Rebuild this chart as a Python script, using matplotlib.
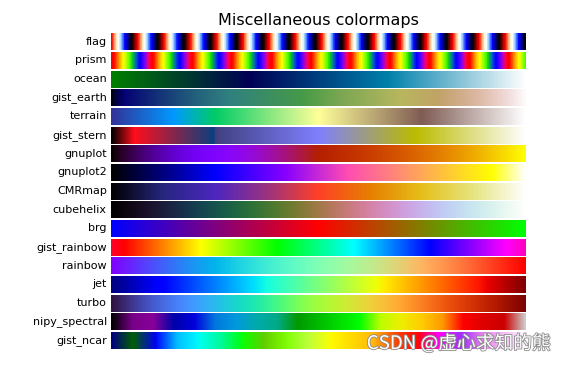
import numpy as np
import matplotlib
matplotlib.use('Agg')
import matplotlib.pyplot as plt
import matplotlib.patheffects as pe

# colormaps shown, top to bottom
cmap_names = ['flag', 'prism', 'ocean', 'gist_earth', 'terrain', 'gist_stern',
              'gnuplot', 'gnuplot2', 'CMRmap', 'cubehelix', 'brg',
              'gist_rainbow', 'rainbow', 'jet', 'turbo', 'nipy_spectral',
              'gist_ncar']
title = 'Miscellaneous colormaps'
watermark = 'CSDN @虚心求知的熊'

gradient = np.linspace(0, 1, 256)
gradient = np.vstack((gradient, gradient))

fig, axs = plt.subplots(nrows=len(cmap_names), figsize=(5.66, 3.65), dpi=100)
fig.subplots_adjust(top=0.909, bottom=0.044, left=0.196, right=0.928, hspace=0.1)

axs[0].set_title(title, fontsize=11.5)

for ax, name in zip(axs, cmap_names):
    ax.imshow(gradient, aspect='auto', cmap=plt.get_cmap(name))
    ax.text(-0.01, 0.5, name, va='center', ha='right', fontsize=8,
            transform=ax.transAxes)

for ax in axs:
    ax.set_axis_off()

# watermark from the source page
fig.text(0.973, 0.03, watermark, ha='right', va='bottom', fontsize=13.5,
         color='white', family=['Noto Sans CJK SC', 'DejaVu Sans'],
         path_effects=[pe.withStroke(linewidth=1.2, foreground='#8a8a8a')])

fig.savefig('out.png', dpi=100)
